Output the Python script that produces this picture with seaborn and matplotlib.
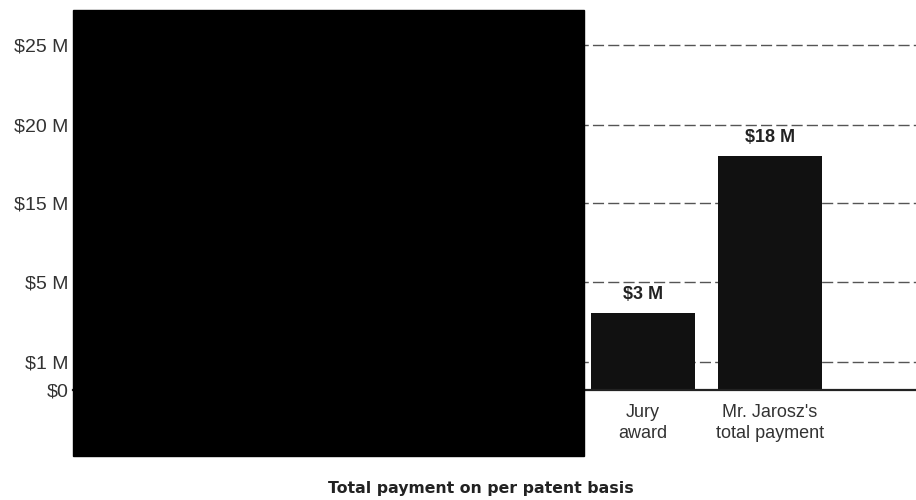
import numpy as np
import matplotlib
matplotlib.use("Agg")
import matplotlib.pyplot as plt
from matplotlib.patches import Rectangle
import seaborn as sns

# ---- data ----
categories = ["Jury\naward", "Mr. Jarosz's\ntotal payment"]
values = [3, 18]               # $ millions
value_labels = ["$3 M", "$18 M"]
tick_values = [0, 1, 5, 15, 20, 25]
tick_labels = ["$0", "$1 M", "$5 M", "$15 M", "$20 M", "$25 M"]
title = "Total payment on per patent basis"

sns.set_theme(style="white")
plt.rcParams["font.family"] = ["Liberation Sans", "DejaVu Sans"]

# piecewise (non-linear, hand-drawn) value axis as in the original
knots_v = np.array([-10, 0, 1, 3, 5, 15, 20, 25, 40], dtype=float)
knots_p = np.array([-280, 0, 28, 77, 108, 187, 265, 345, 585], dtype=float)

def fwd(y):
    return np.interp(y, knots_v, knots_p)

def inv(p):
    return np.interp(p, knots_p, knots_v)

fig = plt.figure(figsize=(9.16, 5.0), dpi=100)
ax = fig.add_axes([73 / 916, 1 - 390 / 500, 1 - 73 / 916, 380 / 500])
ax.set_yscale("function", functions=(fwd, inv))

sns.barplot(x=categories, y=values, color="#111111", saturation=1,
            width=0.82, ax=ax, edgecolor="none")

ax.set_xlim(-4.49, 2.15)
ax.set_ylim(0, inv(380))

ax.set_yticks(tick_values)
ax.set_yticklabels(tick_labels, fontsize=14, color="#333333")
ax.yaxis.set_minor_locator(matplotlib.ticker.NullLocator())
ax.tick_params(axis="y", length=0, pad=3)
ax.tick_params(axis="x", length=0, pad=10, labelsize=13, labelcolor="#333333")
for lbl in ax.get_xticklabels():
    lbl.set_linespacing(1.3)

ax.yaxis.grid(True, color="#555555", linewidth=1.0, linestyle=(0, (8, 3)))
ax.xaxis.grid(False)
ax.set_axisbelow(True)

for side in ["top", "right", "left"]:
    ax.spines[side].set_visible(False)
ax.spines["bottom"].set_color("#222222")
ax.spines["bottom"].set_linewidth(1.6)

ax.bar_label(ax.containers[0], labels=value_labels, padding=7,
             fontsize=13, fontweight="bold", color="#222222")

ax.set_xlabel("")
ax.set_ylabel("")

fig.text(481 / 916, 1 - 488 / 500, title, ha="center", va="center",
         fontsize=11.3, fontweight="bold", color="#222222", family=["DejaVu Sans"])

# redaction block present in the reference
fig.add_artist(Rectangle((73 / 916, 1 - 456 / 500), (584 - 73) / 916, 446 / 500,
                         transform=fig.transFigure, color="black", zorder=10))

fig.savefig("out.png", dpi=100)
